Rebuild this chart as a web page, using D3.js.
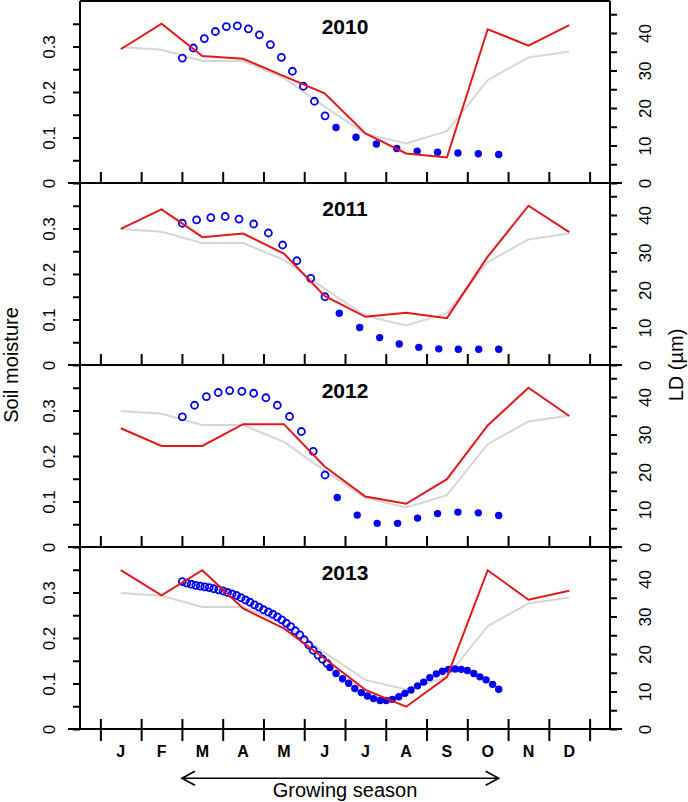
<!DOCTYPE html>
<html>
<head>
<meta charset="utf-8">
<script src="https://cdn.jsdelivr.net/npm/d3@7"></script>
<style>
  html, body { margin: 0; padding: 0; background: #fff; }
  svg { display: block; }
</style>
</head>
<body>
<script>
// ---------------- data ----------------
const months = ["J","F","M","A","M","J","J","A","S","O","N","D"];
const years = ["2010","2011","2012","2013"];

// long-term mean soil moisture (grey)
const smMean = [0.299, 0.293, 0.268, 0.268, 0.231, 0.168, 0.108, 0.087, 0.114, 0.226, 0.276, 0.289];
// yearly soil moisture (red)
const sm2010 = [0.294, 0.350, 0.279, 0.273, 0.235, 0.197, 0.109, 0.065, 0.056, 0.338, 0.302, 0.347];
const sm2011 = [0.299, 0.342, 0.281, 0.289, 0.245, 0.152, 0.106, 0.115, 0.103, 0.238, 0.350, 0.292];
const sm2012 = [0.261, 0.222, 0.222, 0.270, 0.270, 0.177, 0.111, 0.095, 0.149, 0.267, 0.350, 0.288];
const sm2013 = [0.349, 0.294, 0.349, 0.265, 0.221, 0.155, 0.086, 0.049, 0.114, 0.349, 0.284, 0.304];

// LD (µm): earlywood (open) and latewood (filled); positions in month units
const ewPos2010 = [2.51,2.78,3.05,3.32,3.59,3.86,4.13,4.40,4.67,4.94,5.21,5.48,5.75,6.01];
const ew2010    = [33.3,36.0,38.5,40.4,41.7,41.9,41.1,39.5,36.9,33.5,29.8,25.8,21.8,17.9];
const lwPos2010 = [6.28,6.77,7.27,7.77,8.27,8.77,9.27,9.77,10.27];
const lw2010    = [14.8,12.2,10.4,9.2,8.5,8.2,8.0,7.8,7.6];

const ewPos2011 = [2.51,2.86,3.21,3.56,3.90,4.26,4.62,4.97,5.32,5.66,6.01];
const ew2011    = [37.8,38.7,39.3,39.6,38.9,37.6,35.2,32.0,27.8,23.1,18.2];
const lwPos2011 = [6.36,6.86,7.35,7.83,8.31,8.80,9.28,9.78,10.27];
const lw2011    = [13.8,10.0,7.3,5.6,4.7,4.3,4.2,4.2,4.2];

const ewPos2012 = [2.51,2.81,3.10,3.39,3.67,3.97,4.26,4.56,4.84,5.14,5.43,5.72,6.01];
const ew2012    = [34.7,37.8,40.1,41.2,41.7,41.5,41.0,39.8,37.8,34.8,30.8,25.5,19.2];
const lwPos2012 = [6.31,6.80,7.29,7.79,8.28,8.77,9.27,9.77,10.27];
const lw2012    = [13.2,8.5,6.3,6.3,7.7,8.9,9.3,9.1,8.4];

const ewPos2013 = [2.51,2.62,2.73,2.84,2.95,3.06,3.17,3.28,3.40,3.51,3.62,3.73,3.84,3.95,4.06,4.17,4.28,
                   4.39,4.50,4.62,4.73,4.84,4.95,5.06,5.17,5.28,5.39,5.50,5.61,5.72,5.84,5.95,6.06];
const ew2013    = [39.3,38.9,38.6,38.3,38.1,37.9,37.7,37.4,37.1,36.8,36.4,36.0,35.6,35.0,34.4,33.8,33.1,
                   32.5,31.8,31.2,30.6,29.9,29.1,28.2,27.3,26.2,25.1,23.8,22.4,21.0,19.7,18.6,17.5];
const lwPos2013 = [6.13,6.28,6.44,6.59,6.74,6.90,7.05,7.20,7.36,7.51,7.66,7.82,7.97,8.12,
                   8.28,8.43,8.58,8.74,8.89,9.04,9.20,9.35,9.50,9.66,9.81,9.96,10.12,10.27];
const lw2013    = [16.4,14.8,13.4,12.2,10.8,9.7,8.8,8.1,7.6,7.6,7.9,8.6,9.5,10.4,
                   11.5,12.5,13.7,14.7,15.4,15.9,16.0,15.9,15.6,14.8,13.9,13.1,11.9,10.6];

// axis ticks
const xTicks = [0.5,1.5,2.5,3.5,4.5,5.5,6.5,7.5,8.5,9.5,10.5,11.5,12.5];
const smTicks = [0, 0.05, 0.1, 0.15, 0.2, 0.25, 0.3, 0.35];
const smTickLabels = ["0", "", "0.1", "", "0.2", "", "0.3", ""];
const ldTicks = [0, 5, 10, 15, 20, 25, 30, 35, 40, 45];
const ldTickLabels = ["0", "", "10", "", "20", "", "30", "", "40", ""];
const seasonRange = [2.5, 10.27];

const panels = [
  {year: years[0], sm: sm2010, ewPos: ewPos2010, ew: ew2010, lwPos: lwPos2010, lw: lw2010},
  {year: years[1], sm: sm2011, ewPos: ewPos2011, ew: ew2011, lwPos: lwPos2011, lw: lw2011},
  {year: years[2], sm: sm2012, ewPos: ewPos2012, ew: ew2012, lwPos: lwPos2012, lw: lw2012},
  {year: years[3], sm: sm2013, ewPos: ewPos2013, ew: ew2013, lwPos: lwPos2013, lw: lw2013}
];

// ---------------- drawing ----------------
const FONT = "'Liberation Sans', Arial, Helvetica, sans-serif";
const W = 688, H = 802;
const L = 80, R = 610, PH = 182, TOP0 = 1;
const RED = "#e3161b", GREY = "#d6d6d6", BLUE = "#0000f0";

const svg = d3.select("body").append("svg").attr("width", W).attr("height", H)
  .style("font-family", FONT);
svg.append("rect").attr("width", W).attr("height", H).attr("fill", "#fff");

const x = d3.scaleLinear().domain([0, 13]).range([L, R]);

panels.forEach((p, i) => {
  const top = TOP0 + PH * i, bot = top + PH;
  const ySM = d3.scaleLinear().domain([0, 0.4]).range([bot, top]);
  const yLD = d3.scaleLinear().domain([0, 48.53]).range([bot, top]);
  const g = svg.append("g");

  const smLine = d3.line().x((d, j) => x(j + 1)).y(d => ySM(d));

  g.append("path").datum(smMean).attr("d", smLine)
    .attr("fill", "none").attr("stroke", GREY).attr("stroke-width", 2);

  g.selectAll("circle.lw").data(p.lw).enter().append("circle")
    .attr("cx", (d, j) => x(p.lwPos[j])).attr("cy", d => yLD(d))
    .attr("r", 3.7).attr("fill", BLUE);

  g.selectAll("circle.ew").data(p.ew).enter().append("circle")
    .attr("cx", (d, j) => x(p.ewPos[j])).attr("cy", d => yLD(d))
    .attr("r", 3.5).attr("fill", "none").attr("stroke", BLUE).attr("stroke-width", 1.8);

  g.append("path").datum(p.sm).attr("d", smLine)
    .attr("fill", "none").attr("stroke", RED).attr("stroke-width", 2);

  // left axis
  const la = g.append("g").attr("transform", `translate(${L},0)`)
    .call(d3.axisLeft(ySM).tickValues(smTicks).tickSize(7).tickSizeOuter(0)
      .tickFormat((d, j) => smTickLabels[j]));
  la.select(".domain").remove();
  la.selectAll("line").attr("stroke-width", 2);
  la.selectAll("text").attr("x", 0).attr("dy", 0).attr("y", 0)
    .attr("transform", "translate(-25,0) rotate(-90)")
    .attr("text-anchor", "middle").attr("font-size", 17).attr("font-family", FONT);

  // right axis
  const ra = g.append("g").attr("transform", `translate(${R},0)`)
    .call(d3.axisRight(yLD).tickValues(ldTicks).tickSize(7).tickSizeOuter(0)
      .tickFormat((d, j) => ldTickLabels[j]));
  ra.select(".domain").remove();
  ra.selectAll("line").attr("stroke-width", 2);
  ra.selectAll("text").attr("x", 0).attr("dy", 0).attr("y", 0)
    .attr("transform", "translate(41,0) rotate(-90)")
    .attr("text-anchor", "middle").attr("font-size", 17).attr("font-family", FONT);

  // month ticks
  const last = i === panels.length - 1;
  const xa = g.append("g").attr("transform", `translate(0,${bot})`)
    .call(d3.axisBottom(x).tickValues(xTicks).tickSize(last ? 12 : -11).tickSizeOuter(0).tickFormat(""));
  xa.select(".domain").remove();
  xa.selectAll("line").attr("stroke-width", 2);
  if (last) xa.selectAll("line").attr("y1", -10);

  // panel bottom line
  g.append("line").attr("x1", L - 12).attr("x2", R + 12).attr("y1", bot).attr("y2", bot)
    .attr("stroke", "#000").attr("stroke-width", 2);

  // title
  g.append("text").attr("x", (L + R) / 2).attr("y", top + 33)
    .attr("text-anchor", "middle").attr("font-weight", "bold").attr("font-size", 21)
    .text(p.year);
});

// frame
const plotBottom = TOP0 + PH * panels.length;
svg.append("line").attr("x1", L).attr("x2", L).attr("y1", TOP0).attr("y2", plotBottom)
  .attr("stroke", "#000").attr("stroke-width", 2);
svg.append("line").attr("x1", R).attr("x2", R).attr("y1", TOP0).attr("y2", plotBottom)
  .attr("stroke", "#000").attr("stroke-width", 2);
svg.append("line").attr("x1", L).attr("x2", R).attr("y1", TOP0).attr("y2", TOP0)
  .attr("stroke", "#000").attr("stroke-width", 2);

// month labels
svg.selectAll("text.month").data(months).enter().append("text")
  .attr("x", (d, j) => x(j + 1)).attr("y", 757)
  .attr("text-anchor", "middle").attr("font-weight", "bold").attr("font-size", 16)
  .text(d => d);

// growing season arrow
const ay = 778.3, x0 = x(seasonRange[0]), x1 = x(seasonRange[1]);
svg.append("path")
  .attr("d", `M${x0},${ay}H${x1}M${x0 + 13},${ay - 7}L${x0},${ay}L${x0 + 13},${ay + 7}M${x1 - 13},${ay - 7}L${x1},${ay}L${x1 - 13},${ay + 7}`)
  .attr("fill", "none").attr("stroke", "#000").attr("stroke-width", 1.6);
svg.append("text").attr("x", (L + R) / 2).attr("y", 796.5).attr("text-anchor", "middle")
  .attr("font-size", 20).text("Growing season");

// axis titles
svg.append("text").attr("transform", `translate(17.5,${(TOP0 + plotBottom) / 2}) rotate(-90)`)
  .attr("text-anchor", "middle").attr("font-size", 20).text("Soil moisture");
svg.append("text").attr("transform", `translate(683,${(TOP0 + plotBottom) / 2}) rotate(-90)`)
  .attr("text-anchor", "middle").attr("font-size", 20).text("LD (µm)");
</script>
</body>
</html>
